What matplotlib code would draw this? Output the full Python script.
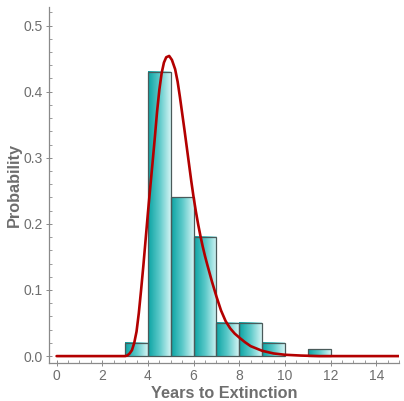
import matplotlib
matplotlib.use("Agg")
import matplotlib.pyplot as plt
import numpy as np
from matplotlib.colors import LinearSegmentedColormap
from matplotlib.patches import Rectangle
from matplotlib.ticker import MultipleLocator

plt.rcParams['font.family'] = ['Liberation Sans', 'DejaVu Sans']

# histogram: bin edges and probabilities
bin_left = [3, 4, 5, 6, 7, 8, 9, 10, 11]
prob = [0.02, 0.43, 0.24, 0.18, 0.05, 0.05, 0.02, 0.0, 0.01]

# fitted curve
curve_x = [0, 3.0, 3.1, 3.2, 3.3, 3.4, 3.5, 3.6, 3.7, 3.8, 3.9, 4.0, 4.1, 4.2,
           4.3, 4.4, 4.5, 4.6, 4.7, 4.8, 4.93, 5.05, 5.19, 5.3, 5.4, 5.5, 5.6,
           5.7, 5.8, 5.9, 6.0, 6.1, 6.2, 6.3, 6.4, 6.5, 6.6, 6.8, 7.0, 7.2,
           7.4, 7.6, 7.8, 8.0, 8.25, 8.5, 9.0, 9.5, 10.0, 10.7, 11.5, 15]
curve_y = [0, 0, 0.001, 0.004, 0.009, 0.02, 0.037, 0.065, 0.1, 0.137, 0.177,
           0.217, 0.255, 0.292, 0.33, 0.37, 0.403, 0.428, 0.444, 0.452, 0.454,
           0.448, 0.434, 0.415, 0.392, 0.367, 0.342, 0.316, 0.29, 0.264, 0.24,
           0.2185, 0.199, 0.1815, 0.1655, 0.151, 0.138, 0.113, 0.09, 0.069,
           0.053, 0.042, 0.034, 0.028, 0.021, 0.015, 0.008, 0.004, 0.002,
           0.0008, 0, 0]

grey = "#6e6e6e"
teal = LinearSegmentedColormap.from_list("teal", ["#0aa3a3", "#5cc9c9", "#d4f4f4"])
grad = np.linspace(0, 1, 256).reshape(1, -1)

fig = plt.figure(figsize=(4.04, 4.01), dpi=100)
ax = fig.add_axes([0.122, 0.0955, 0.866, 0.887])

for x0, h in zip(bin_left, prob):
    if h <= 0:
        continue
    ax.imshow(grad, cmap=teal, aspect="auto", extent=(x0, x0 + 1, 0, h),
              interpolation="bilinear", zorder=2)
    ax.add_patch(Rectangle((x0, 0), 1, h, fill=False, edgecolor="#4a5a5a",
                           linewidth=0.9, zorder=3))

ax.plot(curve_x, curve_y, color="#b30000", linewidth=1.9, zorder=4,
        solid_capstyle="round", solid_joinstyle="round")

ax.set_xlim(-0.32, 15)
ax.set_ylim(-0.01, 0.528)

ax.xaxis.set_major_locator(MultipleLocator(2))
ax.xaxis.set_minor_locator(MultipleLocator(0.5))
ax.yaxis.set_major_locator(MultipleLocator(0.1))
ax.yaxis.set_minor_locator(MultipleLocator(0.02))
ax.yaxis.set_major_formatter(plt.FormatStrFormatter("%.1f"))

for s in ["top", "right"]:
    ax.spines[s].set_visible(False)
for s in ["left", "bottom"]:
    ax.spines[s].set_color("#8a8a8a")
    ax.spines[s].set_linewidth(0.9)

ax.tick_params(which="major", direction="inout", length=5, width=0.7,
               color="#8a8a8a", labelsize=10, labelcolor=grey, pad=2)
ax.tick_params(which="minor", direction="in", length=2.5, width=0.6,
               color="#8a8a8a")

ax.set_xlabel("Years to Extinction", fontsize=11.7, fontweight="bold",
              color=grey, labelpad=2)
ax.set_ylabel("Probability", fontsize=11.7, fontweight="bold",
              color=grey, labelpad=1)

fig.savefig("out.png", dpi=100)
